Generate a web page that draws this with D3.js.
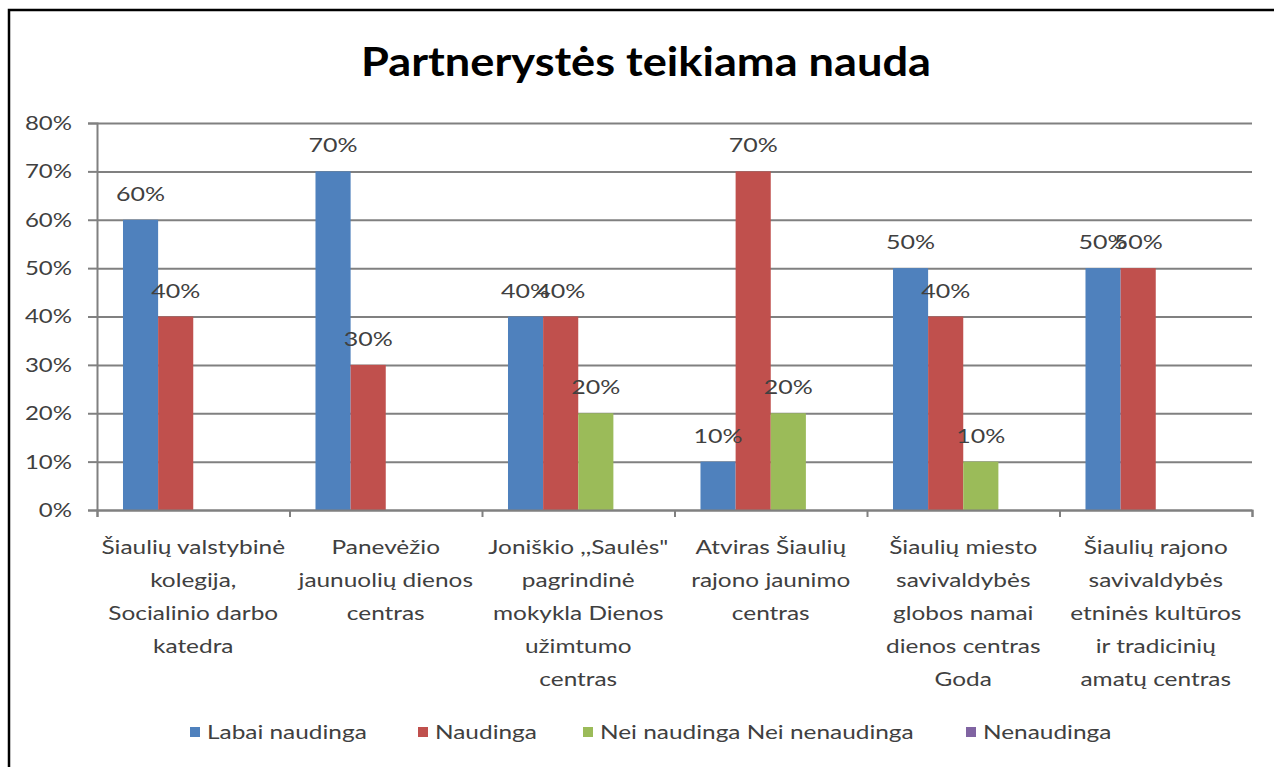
<!DOCTYPE html>
<html>
<head>
<meta charset="utf-8">
<script src="https://cdn.jsdelivr.net/npm/d3@7"></script>
<style>
  body { margin: 0; background: #fff; }
  svg { display: block; font-family: Lato, "Open Sans", sans-serif; }
</style>
</head>
<body>
<div id="canvas"></div>
<script>
const categories = [
  "Šiaulių valstybinė\nkolegija,\nSocialinio darbo\nkatedra",
  "Panevėžio\njaunuolių dienos\ncentras",
  "Joniškio ,,Saulės\"\npagrindinė\nmokykla Dienos\nužimtumo\ncentras",
  "Atviras Šiaulių\nrajono jaunimo\ncentras",
  "Šiaulių miesto\nsavivaldybės\nglobos namai\ndienos centras\nGoda",
  "Šiaulių rajono\nsavivaldybės\netninės kultūros\nir tradicinių\namatų centras"
];
const seriesNames = ["Labai naudinga", "Naudinga", "Nei naudinga Nei nenaudinga", "Nenaudinga"];
const labaiNaudinga = [0.6, 0.7, 0.4, 0.1, 0.5, 0.5];
const naudinga = [0.4, 0.3, 0.4, 0.7, 0.4, 0.5];
const neiNaudinga = [0, 0, 0.2, 0.2, 0.1, 0];
const nenaudinga = [0, 0, 0, 0, 0, 0];
const yTicks = [0, 0.1, 0.2, 0.3, 0.4, 0.5, 0.6, 0.7, 0.8];
const colors = ["#4f81bd", "#c0504d", "#9bbb59", "#8064a2"];

const values = [labaiNaudinga, naudinga, neiNaudinga, nenaudinga];

// the reference text is wider than Lato, so stretch text horizontally
function stretch(sel, sx) {
  sel.each(function () {
    const t = d3.select(this);
    const x = +t.attr("x") || 0;
    const y = +t.attr("y") || 0;
    t.attr("x", 0).attr("y", 0)
      .attr("transform", `translate(${x},${y}) scale(${sx},1)`);
    t.selectAll("tspan").attr("x", 0);
  });
}

function drawChart() {
  const width = 1274;
  const height = 767;
  const margin = { top: 123, left: 97, bottom: 257, right: 22 };
  const iwidth = width - margin.left - margin.right;
  const iheight = height - margin.top - margin.bottom;

  const svg = d3.select("#canvas").append("svg")
    .attr("width", width)
    .attr("height", height);

  svg.append("rect").attr("width", width).attr("height", height).attr("fill", "#fff");

  // frame
  svg.append("path")
    .attr("d", `M9,${height} V10 H${width}`)
    .attr("fill", "none")
    .attr("stroke", "#000")
    .attr("stroke-width", 2.5);

  svg.append("text")
    .attr("x", 646)
    .attr("y", 76)
    .attr("text-anchor", "middle")
    .style("font-size", "40px")
    .style("font-weight", "bold")
    .style("fill", "#000")
    .text("Partnerystės teikiama nauda")
    .call((s) => stretch(s, 1.13));

  const g = svg.append("g")
    .attr("transform", `translate(${margin.left},${margin.top})`);

  const y = d3.scaleLinear().domain([0, 0.8]).range([iheight, 0]);

  const x0 = d3.scaleBand()
    .domain(d3.range(categories.length))
    .range([0, iwidth])
    .paddingInner(0.27)
    .paddingOuter(0.135);

  const x1 = d3.scaleBand()
    .domain(d3.range(seriesNames.length))
    .range([0, x0.bandwidth()]);

  // gridlines
  g.append("g")
    .classed("grid", true)
    .call(d3.axisLeft(y).tickValues(yTicks).tickSize(-iwidth).tickFormat(""))
    .call((s) => s.select(".domain").remove())
    .call((s) => s.selectAll("line").attr("stroke", "#808080").attr("stroke-width", 2));

  // y axis
  g.append("g")
    .classed("y--axis", true)
    .call(d3.axisLeft(y).tickValues(yTicks).tickSize(9).tickPadding(16).tickFormat(d3.format(".0%")))
    .call((s) => s.select(".domain").attr("stroke", "#808080").attr("stroke-width", 2))
    .call((s) => s.selectAll("line").attr("stroke", "#808080").attr("stroke-width", 2))
    .call((s) => s.selectAll("text")
      .style("font-size", "20px")
      .style("font-family", "Lato, sans-serif")
      .attr("fill", "#404040"))
    .call((s) => s.selectAll(".tick text").each(function () {
      const t = d3.select(this);
      t.attr("transform", `translate(${t.attr("x")},0) scale(1.2,1)`).attr("x", 0);
    }));

  // bars
  const groups = g.selectAll(".cat")
    .data(categories.map((c, i) => i))
    .enter()
    .append("g")
    .attr("class", "cat")
    .attr("transform", (i) => `translate(${x0(i)},0)`);

  groups.selectAll("rect")
    .data((i) => values.map((v, s) => ({ s, v: v[i] })))
    .enter()
    .append("rect")
    .attr("x", (d) => x1(d.s))
    .attr("y", (d) => y(d.v))
    .attr("width", x1.bandwidth())
    .attr("height", (d) => iheight - y(d.v))
    .style("fill", (d) => colors[d.s]);

  groups.selectAll(".lbl")
    .data((i) => values.map((v, s) => ({ s, v: v[i] })).filter((d) => d.v > 0))
    .enter()
    .append("text")
    .attr("class", "lbl")
    .attr("x", (d) => x1(d.s) + x1.bandwidth() / 2)
    .attr("y", (d) => y(d.v) - 19)
    .attr("text-anchor", "middle")
    .style("font-size", "20px")
    .style("fill", "#404040")
    .text((d) => d3.format(".0%")(d.v));
  stretch(groups.selectAll(".lbl"), 1.25);

  // x axis with boundary ticks
  const xb = d3.scaleLinear().domain([0, categories.length]).range([0, iwidth]);
  g.append("g")
    .classed("x--axis", true)
    .attr("transform", `translate(0, ${iheight})`)
    .call(d3.axisBottom(xb).ticks(categories.length).tickSize(7).tickFormat(""))
    .call((s) => s.select(".domain").attr("stroke", "#808080").attr("stroke-width", 2))
    .call((s) => s.selectAll("line").attr("stroke", "#808080").attr("stroke-width", 2));

  // category labels
  const cl = g.append("g")
    .attr("transform", `translate(0, ${iheight})`)
    .selectAll("text")
    .data(categories)
    .enter()
    .append("text")
    .attr("x", (c, i) => x0(i) + x0.bandwidth() / 2)
    .attr("y", 44)
    .attr("text-anchor", "middle")
    .style("font-size", "20px")
    .style("fill", "#404040");
  cl.selectAll("tspan")
    .data((c) => c.split("\n"))
    .enter()
    .append("tspan")
    .attr("x", 0)
    .attr("dy", (d, i) => (i === 0 ? 0 : 33))
    .text((d) => d);
  stretch(cl, 1.22);

  // legend
  const legendX = [190, 418, 583, 966];
  const legend = svg.append("g").selectAll("g")
    .data(seriesNames)
    .enter()
    .append("g")
    .attr("transform", (d, i) => `translate(${legendX[i]}, 732)`);
  legend.append("rect")
    .attr("x", 0).attr("y", -5)
    .attr("width", 10).attr("height", 10)
    .style("fill", (d, i) => colors[i]);
  legend.append("text")
    .attr("x", 17)
    .attr("y", 7)
    .style("font-size", "20px")
    .style("fill", "#404040")
    .text((d) => d)
    .call((s) => stretch(s, 1.22));
}

drawChart();
</script>
</body>
</html>
